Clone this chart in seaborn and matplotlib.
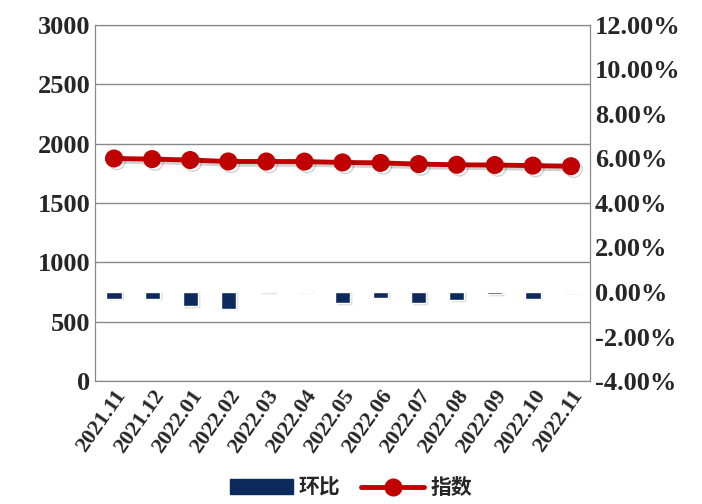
import matplotlib
matplotlib.use("Agg")
import matplotlib.pyplot as plt
import seaborn as sns
import numpy as np
import pandas as pd
import matplotlib.patheffects as pe

months = ["2021.11","2021.12","2022.01","2022.02","2022.03","2022.04","2022.05",
          "2022.06","2022.07","2022.08","2022.09","2022.10","2022.11"]
index_vals = [1875, 1870, 1862, 1850, 1850, 1849, 1842, 1838, 1828, 1822, 1820, 1815, 1810]
mom_pct = [-0.30, -0.30, -0.65, -0.75, -0.02, 0.02, -0.50, -0.25, -0.50, -0.35, -0.10, -0.30, -0.03]

sns.set_style("white")
plt.rcParams['font.family'] = ['Liberation Serif', 'Noto Sans CJK SC']
plt.rcParams['font.weight'] = 'bold'

fig = plt.figure(figsize=(7.02, 5.04), dpi=100)
ax = fig.add_axes([95/702, 1-381/504, 495/702, 356/504])
ax2 = ax.twinx()

df = pd.DataFrame({"m": months, "idx": index_vals, "mom": mom_pct})
x = np.arange(len(months))

ax2.bar(x + 0.05, df["mom"] - 0.08, width=0.4, color="#999999", alpha=0.35, zorder=1)
sns.barplot(data=df, x="m", y="mom", ax=ax2, color="#0d2a5c", width=0.4,
            saturation=1, legend=False, zorder=2)
ax2.set_ylim(-4, 12)
ax2.set_yticks(np.arange(-4, 12.01, 2))
ax2.set_yticklabels([f"{v:.2f}%" for v in np.arange(-4, 12.01, 2)], fontsize=19, fontweight='bold')
ax2.set_ylabel("")
ax2.set_xlabel("")

ax.plot(x, df["idx"], color="#c00000", lw=3.5, marker="o", markersize=12,
        zorder=5,
        path_effects=[pe.SimpleLineShadow(offset=(2, -2), alpha=0.18), pe.Normal()])
ax.set_ylim(0, 3000)
ax.set_yticks(range(0, 3001, 500))
ax.set_yticklabels([str(v) for v in range(0, 3001, 500)], fontsize=19, fontweight='bold')
ax.yaxis.grid(True, color="#888888", lw=1)
ax.set_axisbelow(True)
ax.set_zorder(ax2.get_zorder() + 1)
ax.patch.set_visible(False)
ax.set_xlim(-0.5, len(months) - 0.5)
ax.set_xticks(x)
ax.set_xticklabels(months, rotation=55, ha="right", rotation_mode="anchor",
                   fontsize=16, fontweight='bold')
for a in (ax, ax2):
    for s in a.spines.values():
        s.set_color("#888888")
ax2.tick_params(axis='x', labelbottom=False)
ax.tick_params(axis='both', length=0)
ax2.tick_params(axis='both', length=0)

from matplotlib.patches import Patch
from matplotlib.lines import Line2D
handles = [Patch(color="#0d2a5c"), Line2D([], [], color="#c00000", lw=3.5, marker="o", markersize=12)]
fig.legend(handles, ["环比", "指数"], loc="lower center", ncol=2, frameon=False,
           bbox_to_anchor=(0.5, -0.025), prop={'family': 'Noto Sans CJK SC', 'weight': 'bold', 'size': 15},
           handlelength=3, handletextpad=0.3, columnspacing=1.0)
fig.savefig("out.png", dpi=100)
